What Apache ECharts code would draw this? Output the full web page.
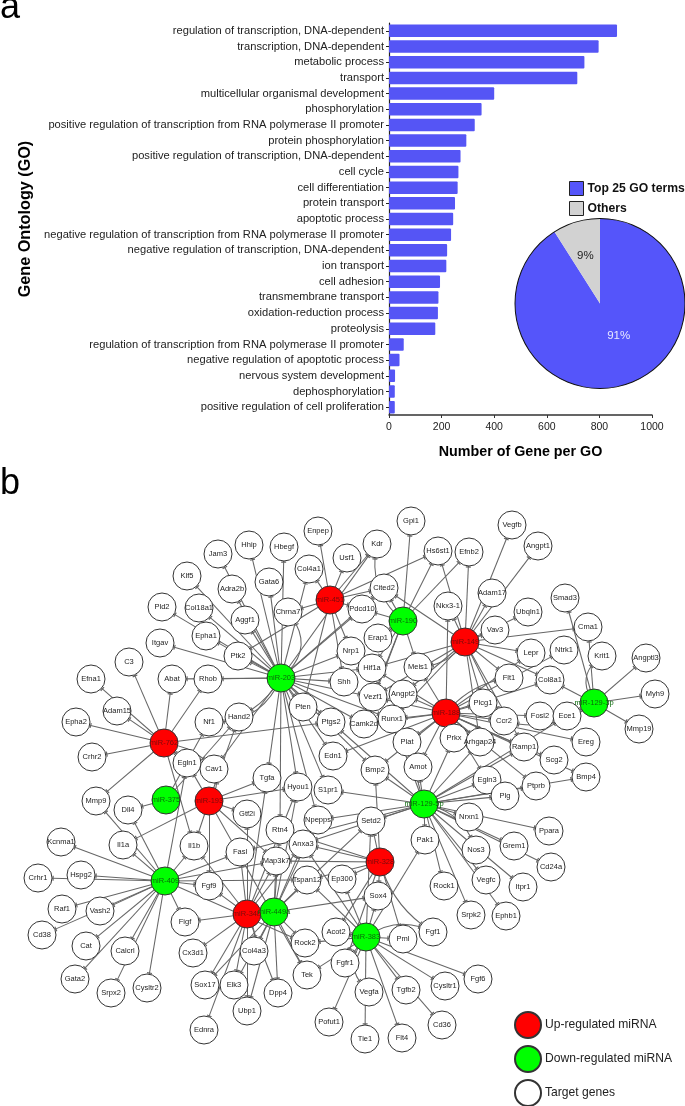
<!DOCTYPE html>
<html><head><meta charset="utf-8">
<style>html,body{margin:0;padding:0;background:#fff}#c{width:685px;height:1106px}</style>
<script src="https://cdn.jsdelivr.net/npm/echarts@6/dist/echarts.min.js"></script>
</head><body><div id="c"></div>
<script>
const goTerms = ["regulation of transcription, DNA-dependent","transcription, DNA-dependent","metabolic process","transport","multicellular organismal development","phosphorylation","positive regulation of transcription from RNA polymerase II promoter","protein phosphorylation","positive regulation of transcription, DNA-dependent","cell cycle","cell differentiation","protein transport","apoptotic process","negative regulation of transcription from RNA polymerase II promoter","negative regulation of transcription, DNA-dependent","ion transport","cell adhesion","transmembrane transport","oxidation-reduction process","proteolysis","regulation of transcription from RNA polymerase II promoter","negative regulation of apoptotic process","nervous system development","dephosphorylation","positive regulation of cell proliferation"];
const goCounts = [867,797,743,716,400,352,326,294,272,264,261,251,244,236,221,218,194,188,186,176,56,40,23,22,22];
const pieNames = ["Top 25 GO terms","Others"];
const pieShares = [91,9];

// Network layout as [name, x, y] in layout units
const genes = [["Enpep",318,531],["Hhip",249,545],["Hbegf",284,547],["Jam3",218,554],["Usf1",347,558],["Col4a1",309,569],["Gata6",269,582],["Klf5",187,576],["Adra2b",232,589],["Pdcd10",362,609],["Pld2",162,607],["Col18a1",199,608],["Aggf1",245,620],["Chrna7",288,612],["Epha1",206,636],["Itgav",160,643],["Ptk2",238,656],["Nrp1",351,651],["C3",129,662],["Efna1",91,679],["Abat",172,679],["Rhob",208,679],["Shh",344,682],["Adam15",117,711],["Pten",303,707],["Hand2",239,717],["Ptgs2",331,722],["Nf1",209,722],["Epha2",76,722],["Crhr2",92,757],["Egln1",187,763],["Cav1",214,769],["Edn1",333,756],["Tgfa",267,778],["Hyou1",298,787],["S1pr1",328,790],
["Gpi1",411,521],["Vegfb",512,525],["Angpt1",538,546],["Kdr",377,544],["Hs6st1",438,551],["Efnb2",469,552],["Cited2",384,588],["Adam17",492,593],["Smad3",565,598],["Nkx3-1",448,606],["Ubqln1",528,612],["Cma1",588,627],["Vav3",495,630],["Erap1",378,638],["Lepr",531,653],["Ntrk1",564,650],["Krit1",602,656],["Angptl3",646,658],["Meis1",418,667],["Hif1a",372,668],["Flt1",509,678],["Col8a1",550,680],["Vezf1",373,697],["Angpt2",403,694],["Plcg1",483,703],["Myh9",655,694],["Runx1",392,719],["Camk2d",364,724],["Fosl2",540,716],["Ece1",567,716],["Ccr2",504,721],["Mmp19",639,729],["Prkx",454,738],["Arhgap24",480,742],["Plat",407,742],["Ramp1",524,747],["Ereg",586,742],["Scg2",554,760],["Amot",418,767],["Bmp2",375,770],["Bmp4",586,777],["Egln3",487,780],["Ptprb",536,786],
["Mmp9",96,801],["Dll4",128,810],["Gtf2i",247,814],["Rtn4",280,830],["Npepps",318,820],["Anxa3",303,844],["Kcnma1",61,842],["Il1a",123,845],["Il1b",194,846],["Fasl",240,852],["Map3k7",276,861],["Hspg2",81,875],["Crhr1",38,878],["Tspan12",307,880],["Ep300",342,879],["Fgf9",209,886],["Raf1",62,909],["Vash2",100,911],["Figf",185,922],["Acot2",336,932],["Cd38",42,935],["Cat",86,946],["Rock2",305,943],["Calcrl",125,951],["Cx3d1",193,953],["Col4a3",254,951],["Fgfr1",345,963],["Tek",307,975],["Gata2",75,979],["Sox17",205,985],["Elk3",234,985],["Cysltr2",147,988],["Srpx2",111,993],["Dpp4",278,993],["Ubp1",247,1011],["Pofut1",329,1022],["Ednra",204,1030],
["Plg",505,796],["Nrxn1",469,817],["Setd2",371,821],["Pak1",425,840],["Ppara",549,831],["Grem1",514,846],["Nos3",476,850],["Cd24a",551,867],["Sox4",378,896],["Vegfc",486,880],["Rock1",444,886],["Itpr1",523,887],["Srpk2",471,915],["Ephb1",506,916],["Fgf1",433,932],["Pml",403,939],["Fgf6",478,979],["Cysltr1",445,986],["Tgfb2",406,990],["Vegfa",369,992],["Cd36",442,1025],["Tie1",365,1039],["Flt4",402,1038]];
const upMirnas = [["miR-451",330,600],["miR-149",465,642],["miR-188",446,713],["miR-762",164,743],["miR-193",209,801],["miR-34b",247,914],["miR-328",380,862]];
const downMirnas = [["miR-190",403,621],["miR-203",281,678],["miR-129-3p",594,703],["miR-129-5p",424,804],["miR-375",166,800],["miR-409",165,881],["miR-449a",274,912],["miR-383",366,937]];

const targets451 = ["Enpep","Usf1","Col4a1","Chrna7","Pdcd10","Nrp1","Kdr","Hs6st1","Cited2","Ptk2","Pten","Shh"];
const targets149 = ["Hs6st1","Efnb2","Nkx3-1","Adam17","Vegfb","Angpt1","Vav3","Ubqln1","Lepr","Flt1","Cma1","Col8a1","Plcg1","Ccr2","Meis1","Hif1a","Vezf1","Angpt2","Cited2","Arhgap24","Runx1","Ramp1"];
const targets188 = ["Plcg1","Ccr2","Fosl2","Ramp1","Ptprb","Prkx","Plat","Amot","Runx1","Angpt2","Vezf1","Meis1","Hif1a","Camk2d","Arhgap24","Egln3","Flt1","Col8a1","Ntrk1","Scg2","Bmp4","Ereg","Bmp2","Nkx3-1","Edn1","Lepr"];
const targets762 = ["C3","Efna1","Adam15","Epha2","Crhr2","Abat","Rhob","Ptgs2","Mmp9","Egln1","Cav1","Il1b"];
const targets193 = ["Cav1","Egln1","Il1a","Il1b","Fgf9","Tgfa","Gtf2i","Hand2","Map3k7","Hyou1","Tek"];
const targets34b = ["Figf","Cx3d1","Sox17","Elk3","Ubp1","Ednra","Col4a3","Fgf9","Fasl","Map3k7","Anxa3","Il1b","Gtf2i","Tgfa","Dpp4","Hyou1"];
const targets328 = ["Map3k7","Tspan12","Ep300","Sox4","Acot2","Fgf1","Setd2","Anxa3","Rtn4","Bmp2","Fgfr1","Pml"];
const targets190 = ["Gpi1","Kdr","Efnb2","Hs6st1","Cited2","Pdcd10","Erap1","Meis1","Hif1a","Vezf1","Camk2d"];
const targets203 = ["Hhip","Hbegf","Jam3","Gata6","Adra2b","Klf5","Col18a1","Aggf1","Chrna7","Col4a1","Epha1","Pld2","Itgav","Ptk2","Rhob","Abat","Hand2","Nf1","Nrp1","Shh","Hif1a","Vezf1","Pten","Ptgs2","Camk2d","Edn1","Bmp2","Tgfa","Hyou1","S1pr1","Rtn4","Kdr","Pdcd10","Cav1","Npepps","Runx1","Cited2"];
const targets1293p = ["Krit1","Angptl3","Myh9","Mmp19","Col8a1","Smad3","Ccr2","Ece1","Cma1"];
const targets1295p = ["Amot","Plat","Bmp2","S1pr1","Setd2","Pak1","Nrxn1","Plg","Egln3","Grem1","Ppara","Nos3","Cd24a","Vegfc","Itpr1","Ephb1","Rock1","Srpk2","Ptprb","Bmp4","Ramp1","Ece1","Npepps","Anxa3","Prkx","Arhgap24","Ptgs2","Fasl","Runx1"];
const targets375 = ["Dll4","Hand2","Nf1"];
const targets409 = ["Kcnma1","Hspg2","Crhr1","Raf1","Vash2","Cd38","Cat","Gata2","Calcrl","Srpx2","Cysltr2","Figf","Fgf9","Il1a","Mmp9","Dll4","Il1b","Fasl","Map3k7","Tspan12","Egln1","Rock2"];
const targets449a = ["Map3k7","Anxa3","Tspan12","Sox4","Col4a3","Dpp4","Rock2","Tek","Ubp1","Elk3","Npepps","Setd2","Rtn4","Sox17","Hyou1"];
const targets383 = ["Sox4","Pml","Acot2","Fgfr1","Vegfa","Tgfb2","Cysltr1","Fgf6","Cd36","Tie1","Flt4","Pofut1","Rock2","Tek","Pak1","Tspan12","Ep300","Anxa3","Setd2","Fgf1"];
const targetTable = {"miR-451":targets451,"miR-149":targets149,"miR-188":targets188,"miR-762":targets762,"miR-193":targets193,"miR-34b":targets34b,"miR-328":targets328,"miR-190":targets190,"miR-203":targets203,"miR-129-3p":targets1293p,"miR-129-5p":targets1295p,"miR-375":targets375,"miR-409":targets409,"miR-449a":targets449a,"miR-383":targets383};
const curvedEdges = {"miR-203|Chrna7":-0.5,"miR-203|Nf1":0.35,"miR-190|Kdr":0.3,"miR-129-3p|Krit1":0.5,"miR-129-3p|Ccr2":0.25,"miR-383|Vegfa":-0.5,"miR-383|Fgf1":0.3,"miR-188|Flt1":0.2,"miR-203|Hand2":0.15,"miR-762|Cav1":0.2,"miR-149|Meis1":0.25,"miR-328|Fgf1":-0.2,"miR-129-5p|Nos3":0.3,"miR-193|Cav1":-0.3,"miR-34b|Col4a3":0.2};
const legendNames = ["Up-regulated miRNA","Down-regulated miRNA","Target genes"];
const legendColors = ["#ff0000","#00ff00","#ffffff"];

const nodes = [];
upMirnas.forEach(m => nodes.push({name:m[0],value:[m[1],m[2]],category:0,symbolSize:28,label:{color:'#7a0a0a'}}));
downMirnas.forEach(m => nodes.push({name:m[0],value:[m[1],m[2]],category:1,symbolSize:28,label:{color:'#0a6a0a'}}));
genes.forEach(g => nodes.push({name:g[0],value:[g[1],g[2]],category:2,symbolSize:28}));
const known = new Set(nodes.map(n=>n.name));
const links = [];
Object.keys(targetTable).forEach(m => targetTable[m].forEach(t => {
  if(!known.has(t)) return;
  const c = curvedEdges[m+"|"+t];
  links.push(c ? {source:m,target:t,lineStyle:{curveness:c}} : {source:m,target:t});
}));

const chart = echarts.init(document.getElementById('c'),null,{renderer:'canvas'});
const F = '"Liberation Sans", Arial, sans-serif';
chart.setOption({
  animation:false,
  title:[
    {text:'a',left:0,top:-10,padding:0,textStyle:{fontFamily:F,fontWeight:'normal',fontSize:36,color:'#000'}},
    {text:'b',left:0,top:466,padding:0,textStyle:{fontFamily:F,fontWeight:'normal',fontSize:36,color:'#000'}}
  ],
  legend:[
    {data:pieNames,orient:'vertical',left:569,top:181,padding:0,itemWidth:14,itemHeight:14,itemGap:5,selectedMode:false,icon:'rect',
     itemStyle:{borderColor:'#222',borderWidth:1},
     textStyle:{fontFamily:F,fontSize:12.2,fontWeight:'bold',color:'#111',padding:[0,0,0,-1]}},
    {data:legendNames,orient:'vertical',left:514,top:1011,height:120,padding:0,itemWidth:26,itemHeight:26,itemGap:6,selectedMode:false,icon:'circle',
     textStyle:{fontFamily:F,fontSize:12.1,color:'#222',padding:[0,0,0,-1]}}
  ],
  grid:[
    {left:389,top:23,width:263,height:392},
    {left:0,top:0,width:685,height:1106}
  ],
  xAxis:[
    {gridIndex:0,type:'value',min:0,max:1000,interval:200,splitLine:{show:false},
     axisLine:{show:true,lineStyle:{color:'#333',width:1.5}},axisTick:{show:true,length:3,lineStyle:{color:'#333',width:1}},
     axisLabel:{fontFamily:F,fontSize:10.5,color:'#222',margin:7,formatter:v=>String(v)},
     name:'Number of Gene per GO',nameLocation:'middle',nameGap:30,
     nameTextStyle:{fontFamily:F,fontSize:14.3,fontWeight:'bold',color:'#000'}},
    {gridIndex:1,type:'value',min:0,max:685,show:false}
  ],
  yAxis:[
    {gridIndex:0,type:'category',data:goTerms,inverse:true,
     axisLine:{show:true,onZero:false,lineStyle:{color:'#222',width:1.2}},axisTick:{show:true,length:3,alignWithLabel:true,lineStyle:{color:'#222',width:1}},
     axisLabel:{fontFamily:F,fontSize:11.15,color:'#222',margin:5,interval:0},
     name:'Gene Ontology (GO)',nameLocation:'middle',nameRotate:90,nameGap:355,
     nameTextStyle:{fontFamily:F,fontSize:16.2,fontWeight:'bold',color:'#000'}},
    {gridIndex:1,type:'value',min:0,max:1106,inverse:true,show:false}
  ],
  series:[
    {type:'bar',xAxisIndex:0,yAxisIndex:0,data:goCounts,barWidth:12.5,
     itemStyle:{color:'#5555f5',borderRadius:1}},
    {type:'pie',center:[600,303.5],radius:[0,85],startAngle:90,clockwise:true,
     data:pieNames.map((n,i)=>({name:n,value:pieShares[i],
       itemStyle:{color:i===0?'#5555fa':'#d2d2d2'},
       label:{color:i===0?'#e8e8ff':'#222',offset:i===0?[6,-11]:[-2,-4]}})),
     label:{show:true,position:'inside',formatter:'{c}%',fontFamily:F,fontSize:11.5},
     labelLine:{show:false},silent:true},
    {type:'pie',center:[600,303.5],radius:[84.5,85.5],silent:true,label:{show:false},labelLine:{show:false},
     data:[{name:'outline',value:pieShares[0]+pieShares[1],itemStyle:{color:'#111'}}]},
    {type:'graph',coordinateSystem:'cartesian2d',xAxisIndex:1,yAxisIndex:1,
     categories:legendNames.map((n,i)=>({name:n,itemStyle:{color:legendColors[i],borderColor:'#333',borderWidth:1}})),
     data:nodes,links:links,symbol:'circle',
     edgeSymbol:['none','path://M0,6H10V8.4H0Z M0,0H0.01V0.01H0Z M0,9.99H0.01V10H0Z'],edgeSymbolSize:[1,5],
     lineStyle:{color:'#666',width:1.05,opacity:1,curveness:0},
     label:{show:true,position:'inside',fontFamily:F,fontSize:7.5,color:'#222'},
     itemStyle:{borderWidth:1,borderColor:'#333'},
     silent:true,roam:false}
  ]
});
</script></body></html>
